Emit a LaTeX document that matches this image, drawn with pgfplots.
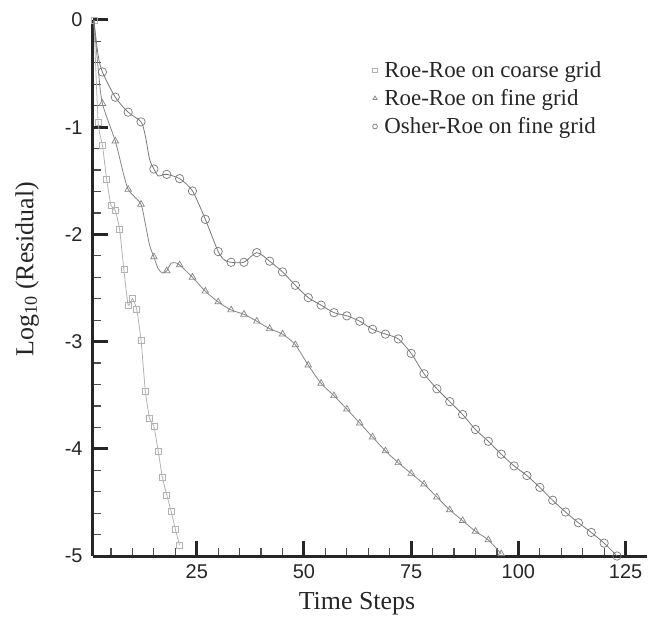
\documentclass[border=0pt]{standalone}
\usepackage{fontspec}
\setmainfont{Liberation Serif}
\newfontfamily\ticksf{Liberation Sans}
\usepackage{pgfplots}
\pgfplotsset{compat=1.18}
\definecolor{cCoarse}{gray}{0.70}
\definecolor{cFine}{gray}{0.52}
\definecolor{cOsher}{gray}{0.47}
\begin{document}
\begin{tikzpicture}
\useasboundingbox (-93bp,-61bp) rectangle (563bp,556bp);
\begin{axis}[
 at={(0,0)}, anchor=south west,
 scale only axis, width=554bp, height=536bp,
 xmin=0.8, xmax=130, ymin=-5, ymax=0,
 axis lines*=left,
 axis line style={line width=3bp, black!85},
 xtick={25,50,75,100,125},
 minor xtick={5,10,...,125},
 ytick={-5,-4,-3,-2,-1,0},
 yticklabels={-5,-4,-3,-2,-1,0},
 minor ytick={-4.8,-4.6,...,-0.1},
 tick align=inside,
 major tick length=15bp, minor tick length=8bp,
 major tick style={line width=3bp, black!85},
 minor tick style={line width=1.2bp, black!70},
 ticklabel style={font=\ticksf\fontsize{20}{20}\selectfont, black!85},
 yticklabel style={xshift=-7bp},
 xticklabel style={yshift=-5bp},
 /pgf/number format/assume math mode=true,
 xlabel={Time Steps},
 ylabel={Log\textsubscript{10} (Residual)},
 label style={font=\fontsize{26}{28}\selectfont, black!85},
 xlabel style={at={(axis description cs:0.4765,-0.0896)}, anchor=center},
 ylabel style={at={(axis description cs:-0.119,0.535)}, anchor=center},
 clip mode=individual,
 legend cell align=left,
 legend image code/.code={\draw[mark repeat=1,mark phase=1,#1] plot coordinates {(0bp,0bp)};},
 legend style={draw=none, fill=none, at={(axis description cs:0.499,0.93)}, anchor=north west,
   font=\fontsize{23}{26}\selectfont, text=black!85, row sep=6.5bp,
   /tikz/every odd column/.append style={column sep=5bp}},
]
\addlegendimage{only marks, mark=square, mark size=2.2bp, cCoarse, line width=0.7bp}
\addlegendentry{Roe-Roe on coarse grid}
\addlegendimage{only marks, mark=triangle, mark size=2.4bp, cFine, line width=0.7bp}
\addlegendentry{Roe-Roe on fine grid}
\addlegendimage{only marks, mark=o, mark size=2.4bp, cOsher, line width=0.7bp}
\addlegendentry{Osher-Roe on fine grid}

% Roe-Roe coarse grid
\addplot[cCoarse, line width=0.8bp, smooth, tension=0.3, mark=square, mark size=3bp, mark options={line width=0.7bp}, forget plot] coordinates {
(1,0) (2,-0.955) (3,-1.17) (4,-1.49) (5,-1.73) (6,-1.78) (7,-1.95) (8,-2.33) (9,-2.66) (10,-2.60) (11,-2.70)
(12,-2.985) (13,-3.46) (14,-3.72) (15,-3.79) (16,-4.02) (17,-4.27) (18,-4.43) (19,-4.58) (20,-4.75) (21,-4.90)
};

% Roe-Roe fine grid: line
\addplot[cFine, line width=0.8bp, smooth, tension=0.45, forget plot] coordinates {
(1,0) (2,-0.45) (3,-0.78) (6,-1.13) (8,-1.45) (9,-1.58) (10,-1.63) (12,-1.72) (13,-1.9) (14,-2.1) (15,-2.21)
(16,-2.32) (17,-2.36) (18,-2.34) (19,-2.27) (20,-2.265) (21,-2.285) (24,-2.40) (27,-2.53) (30,-2.63) (33,-2.705)
(36,-2.745) (39,-2.81) (42,-2.88) (45,-2.93) (48,-3.03) (51,-3.22) (54,-3.39) (57,-3.505) (60,-3.63) (63,-3.76)
(66,-3.89) (69,-4.02) (72,-4.13) (75,-4.23) (78,-4.33) (81,-4.45) (84,-4.57) (87,-4.67) (90,-4.77) (93,-4.85) (96,-4.98)
};
% Roe-Roe fine grid: markers
\addplot[cFine, only marks, mark=triangle, mark size=3.8bp, mark options={line width=0.7bp}, forget plot] coordinates {
(3,-0.78) (6,-1.13) (9,-1.58) (12,-1.72) (15,-2.21) (18,-2.34) (21,-2.285) (24,-2.40) (27,-2.53) (30,-2.63) (33,-2.705)
(36,-2.745) (39,-2.81) (42,-2.88) (45,-2.93) (48,-3.03) (51,-3.22) (54,-3.39) (57,-3.505) (60,-3.63) (63,-3.76)
(66,-3.89) (69,-4.02) (72,-4.13) (75,-4.23) (78,-4.33) (81,-4.45) (84,-4.57) (87,-4.67) (90,-4.77) (93,-4.85) (96,-4.98)
};

% Osher-Roe fine grid: line
\addplot[cOsher, line width=0.8bp, smooth, tension=0.45, forget plot] coordinates {
(1,0) (2,-0.33) (3,-0.485) (6,-0.72) (9,-0.86) (12,-0.95) (13,-1.08) (14,-1.3) (15,-1.39) (16,-1.455) (17,-1.445)
(18,-1.44) (21,-1.48) (24,-1.595) (27,-1.86) (30,-2.16) (31.5,-2.24) (33,-2.26) (36,-2.26) (39,-2.17) (42,-2.25)
(45,-2.35) (48,-2.475) (51,-2.59) (54,-2.66) (57,-2.73) (60,-2.76) (63,-2.81) (66,-2.885) (69,-2.93) (72,-2.975)
(75,-3.11) (78,-3.30) (81,-3.44) (84,-3.56) (87,-3.68) (90,-3.82) (93,-3.93) (96,-4.05) (99,-4.16) (102,-4.25)
(105,-4.36) (108,-4.48) (111,-4.59) (114,-4.69) (117,-4.78) (120,-4.88) (123,-5.0)
};
% Osher-Roe fine grid: markers
\addplot[cOsher, only marks, mark=o, mark size=4.2bp, mark options={line width=0.7bp}, forget plot] coordinates {
(3,-0.485) (6,-0.72) (9,-0.86) (12,-0.95) (15,-1.39) (18,-1.44) (21,-1.48) (24,-1.595) (27,-1.86) (30,-2.16)
(33,-2.26) (36,-2.26) (39,-2.17) (42,-2.25) (45,-2.35) (48,-2.475) (51,-2.59) (54,-2.66) (57,-2.73) (60,-2.76)
(63,-2.81) (66,-2.885) (69,-2.93) (72,-2.975) (75,-3.11) (78,-3.30) (81,-3.44) (84,-3.56) (87,-3.68) (90,-3.82)
(93,-3.93) (96,-4.05) (99,-4.16) (102,-4.25) (105,-4.36) (108,-4.48) (111,-4.59) (114,-4.69) (117,-4.78) (120,-4.88) (123,-5.0)
};
\end{axis}
\end{tikzpicture}
\end{document}
